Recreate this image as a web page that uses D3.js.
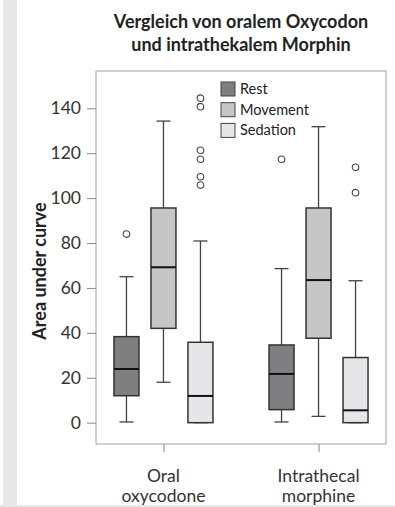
<!DOCTYPE html>
<html>
<head>
<meta charset="utf-8">
<script src="https://cdn.jsdelivr.net/npm/d3@7"></script>
<style>
  body { margin: 0; background: #fff; }
  svg { display: block; font-family: Lato, "Open Sans", sans-serif; }
</style>
</head>
<body>
<script>
// data
var groups = ['Oral oxycodone', 'Intrathecal morphine'];
var groupLines = [['Oral', 'oxycodone'], ['Intrathecal', 'morphine']];
var series = ['Rest', 'Movement', 'Sedation'];
var colors = ['#7f7f82', '#c6c6c6', '#e6e6e8'];
var yTicks = [0, 20, 40, 60, 80, 100, 120, 140];

// [lower whisker, q1, median, q3, upper whisker] per group, per series
var oralStats = [
  [0.3, 12.0, 23.9, 38.3, 65.0],
  [18.0, 42.0, 69.2, 95.6, 134.3],
  [0, 0, 11.9, 35.8, 80.9]
];
var itStats = [
  [0.3, 5.8, 21.7, 34.6, 68.6],
  [2.8, 37.6, 63.5, 95.6, 131.8],
  [0, 0, 5.5, 29.0, 63.2]
];
var oralOutliers = [[84.0], [], [144.5, 140.7, 121.3, 117.3, 109.5, 105.8]];
var itOutliers = [[117.3], [], [113.7, 102.4]];

var boxes = [];
[oralStats, itStats].forEach(function(st, gi) {
  st.forEach(function(s, si) {
    boxes.push({group: groups[gi], series: series[si], si: si,
      lo: s[0], q1: s[1], med: s[2], q3: s[3], hi: s[4],
      out: [oralOutliers, itOutliers][gi][si]});
  });
});

var W = 395, H = 507;
var svg = d3.select('body').append('svg')
    .attr('width', W)
    .attr('height', H);

// grey page edges
svg.append('rect').attr('x', 3).attr('y', 0).attr('width', 14).attr('height', H).attr('fill', '#e8e8e8');
svg.append('rect').attr('x', 0).attr('y', H - 2).attr('width', W).attr('height', 2).attr('fill', '#e8e8e8');

var pLeft = 96, pRight = 386, pTop = 71, pBottom = 444;

var x = d3.scalePoint().domain(groups).range([pLeft, pRight]).padding(0.435);
var xs = d3.scalePoint().domain(series).range([-37, 37]);
var y = d3.scaleLinear().domain([-9.5, 156.6]).range([pBottom, pTop]);
var color = d3.scaleOrdinal().domain(series).range(colors);

var bw = 25, cap = 14;

// title
var title = svg.append('text')
    .attr('text-anchor', 'middle')
    .attr('font-weight', 'bold')
    .attr('font-size', 18)
    .attr('fill', '#222');
title.append('tspan').attr('x', 241).attr('y', 28).text('Vergleich von oralem Oxycodon');
title.append('tspan').attr('x', 241).attr('y', 51).text('und intrathekalem Morphin');

// frame
svg.append('rect')
    .attr('x', pLeft).attr('y', pTop)
    .attr('width', pRight - pLeft).attr('height', pBottom - pTop)
    .attr('fill', 'none').attr('stroke', '#a0a0a0').attr('stroke-width', 1);

// y axis
var yAxis = svg.append('g')
    .attr('transform', 'translate(' + pLeft + ',0)')
    .call(d3.axisLeft(y).tickValues(yTicks).tickSize(9).tickSizeOuter(0).tickPadding(6));
yAxis.select('.domain').remove();
yAxis.selectAll('line').attr('stroke', '#888');
yAxis.selectAll('text').attr('font-size', 17.5).attr('fill', '#333').attr('font-family', 'Lato, sans-serif');

svg.append('text')
    .attr('transform', 'translate(46,271) rotate(-90)')
    .attr('text-anchor', 'middle')
    .attr('font-weight', 'bold')
    .attr('font-size', 18)
    .attr('fill', '#222')
    .text('Area under curve');

// x axis
var xAxis = svg.append('g')
    .attr('transform', 'translate(0,' + pBottom + ')')
    .call(d3.axisBottom(x).tickSize(8).tickSizeOuter(0).tickFormat(''));
xAxis.select('.domain').remove();
xAxis.selectAll('line').attr('stroke', '#888');

groups.forEach(function(g, i) {
  var t = svg.append('text')
      .attr('text-anchor', 'middle')
      .attr('font-size', 17.5)
      .attr('fill', '#333');
  groupLines[i].forEach(function(s, j) {
    t.append('tspan').attr('x', x(g)).attr('y', 482 + j * 20).text(s);
  });
});

// boxes
var b = svg.append('g').selectAll('.box')
    .data(boxes)
    .enter()
    .append('g')
    .attr('class', 'box')
    .attr('transform', function(d) { return 'translate(' + (x(d.group) + xs(d.series)) + ',0)'; });

b.append('line')
    .attr('x1', 0).attr('x2', 0)
    .attr('y1', function(d) { return y(d.hi); })
    .attr('y2', function(d) { return y(d.lo); })
    .attr('stroke', '#444').attr('stroke-width', 1.3);
b.selectAll('.cap')
    .data(function(d) { return [d.lo, d.hi]; })
    .enter()
    .append('line')
    .attr('x1', -cap / 2).attr('x2', cap / 2)
    .attr('y1', function(v) { return y(v); })
    .attr('y2', function(v) { return y(v); })
    .attr('stroke', '#444').attr('stroke-width', 1.3);
b.append('rect')
    .attr('x', -bw / 2).attr('width', bw)
    .attr('y', function(d) { return y(d.q3); })
    .attr('height', function(d) { return y(d.q1) - y(d.q3); })
    .attr('fill', function(d) { return color(d.series); })
    .attr('stroke', '#333').attr('stroke-width', 1.5);
b.append('line')
    .attr('x1', -bw / 2).attr('x2', bw / 2)
    .attr('y1', function(d) { return y(d.med); })
    .attr('y2', function(d) { return y(d.med); })
    .attr('stroke', '#111').attr('stroke-width', 2);
b.selectAll('.out')
    .data(function(d) { return d.out; })
    .enter()
    .append('circle')
    .attr('cx', 0)
    .attr('cy', function(v) { return y(v); })
    .attr('r', 3.3)
    .attr('fill', '#fff').attr('stroke', '#444').attr('stroke-width', 1.1);

// legend
var lg = svg.append('g').selectAll('.lg')
    .data(series)
    .enter()
    .append('g')
    .attr('transform', function(d, i) { return 'translate(221,' + (82 + i * 20.7) + ')'; });
lg.append('rect')
    .attr('width', 14).attr('height', 14)
    .attr('fill', function(d) { return color(d); })
    .attr('stroke', '#444').attr('stroke-width', 1);
lg.append('text')
    .attr('x', 19).attr('y', 12)
    .attr('font-size', 14.5)
    .attr('fill', '#222')
    .text(function(d) { return d; });
</script>
</body>
</html>
